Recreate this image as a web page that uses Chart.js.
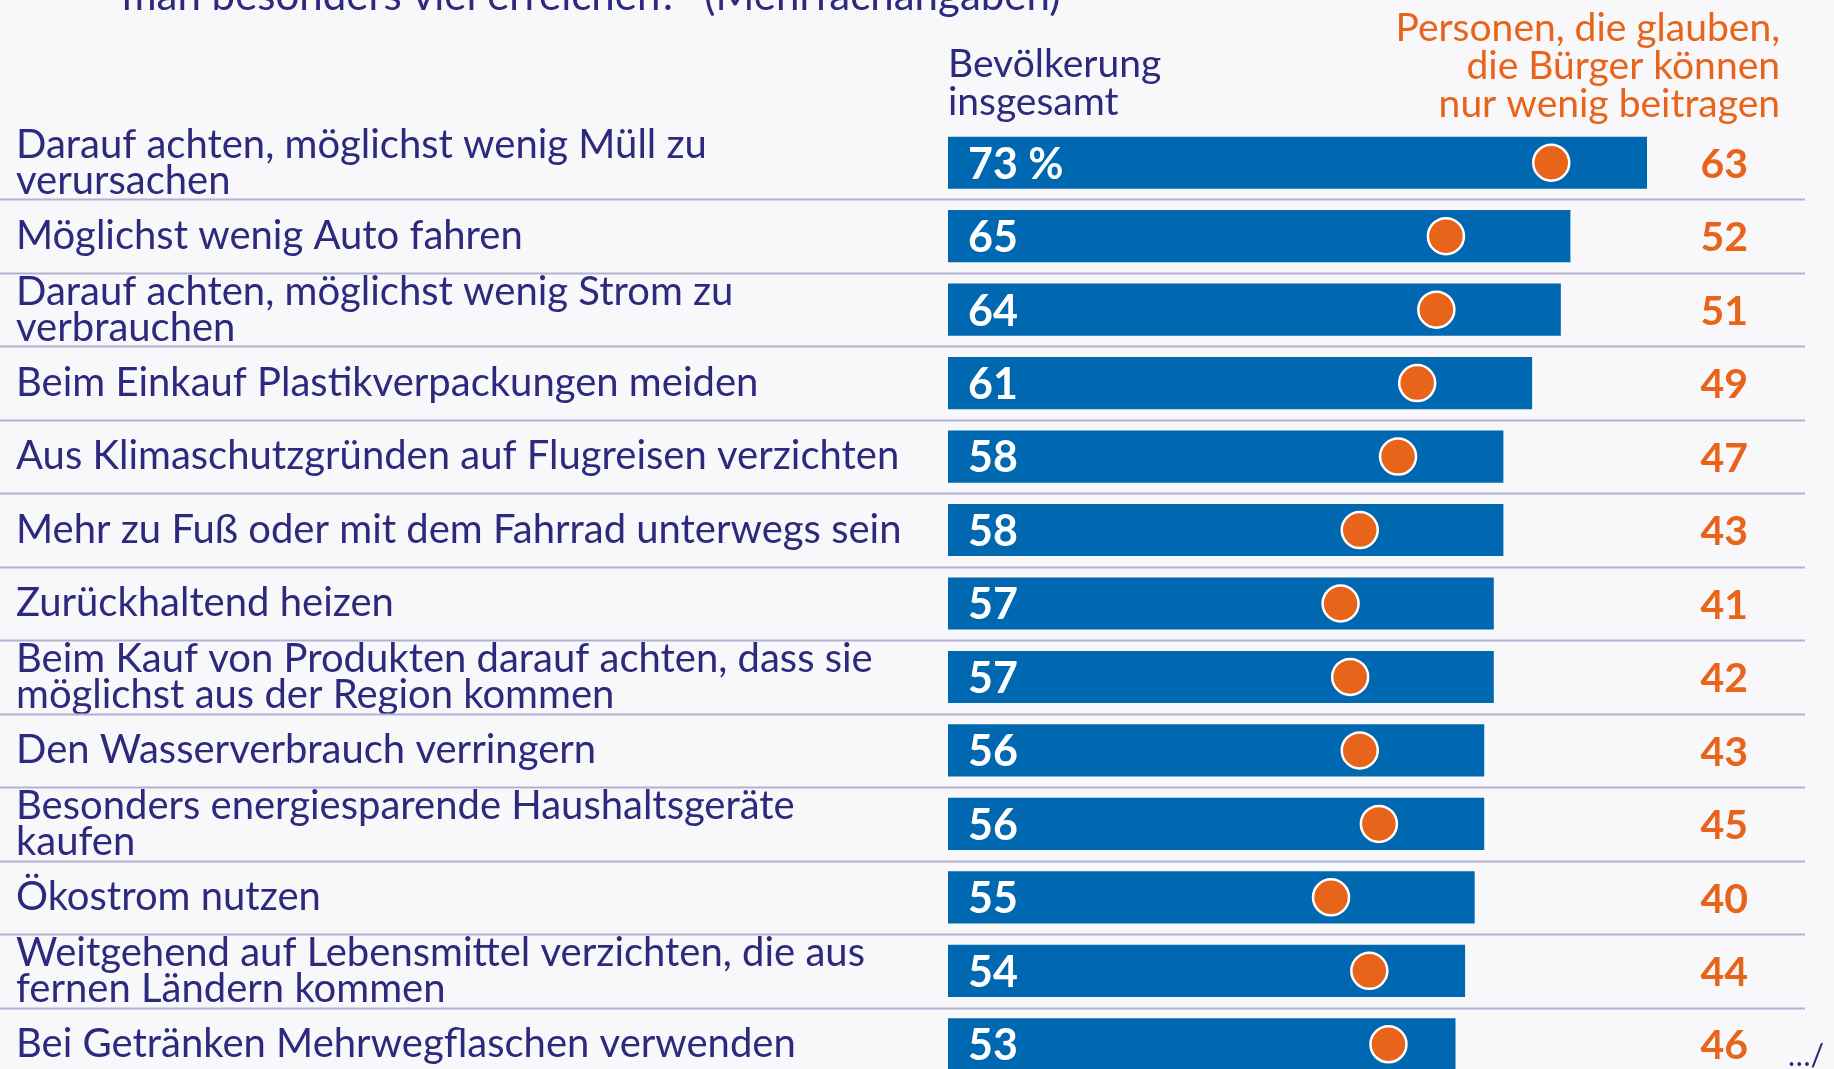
<!DOCTYPE html>
<html>
<head>
<meta charset="utf-8">
<script src="https://cdn.jsdelivr.net/npm/chart.js@4.4.1/dist/chart.umd.min.js"></script>
<style>
  html, body { margin: 0; padding: 0; background: #f8f8fb; overflow: hidden; }
  #wrap { position: relative; width: 1834px; height: 1117px; }
</style>
</head>
<body>
<div id="wrap"><canvas id="chart" width="1834" height="1117"></canvas></div>
<script>
// Werte
const categories = [
  ["Darauf achten, möglichst wenig Müll zu", "verursachen"],
  "Möglichst wenig Auto fahren",
  ["Darauf achten, möglichst wenig Strom zu", "verbrauchen"],
  "Beim Einkauf Plastikverpackungen meiden",
  "Aus Klimaschutzgründen auf Flugreisen verzichten",
  "Mehr zu Fuß oder mit dem Fahrrad unterwegs sein",
  "Zurückhaltend heizen",
  ["Beim Kauf von Produkten darauf achten, dass sie", "möglichst aus der Region kommen"],
  "Den Wasserverbrauch verringern",
  ["Besonders energiesparende Haushaltsgeräte", "kaufen"],
  "Ökostrom nutzen",
  ["Weitgehend auf Lebensmittel verzichten, die aus", "fernen Ländern kommen"],
  "Bei Getränken Mehrwegflaschen verwenden"
];
const bevoelkerung = [73, 65, 64, 61, 58, 58, 57, 57, 56, 56, 55, 54, 53];
const wenigBeitragen = [63, 52, 51, 49, 47, 43, 41, 42, 43, 45, 40, 44, 46];

const titleTail = "man besonders viel erreichen?\u201c (Mehrfachangaben)";
const headerBlue = ["Bevölkerung", "insgesamt"];
const headerOrange = ["Personen, die glauben,", "die Bürger können", "nur wenig beitragen"];

const BLUE = "#0067b1";
const ORANGE = "#e8641b";
const INK = "#2d2a7e";
const RULE = "#b3b0d2";
const FONT = "Lato, 'Open Sans', sans-serif";

const extras = {
  id: "extras",
  beforeDatasetsDraw(chart) {
    const { ctx, chartArea, scales: { y } } = chart;
    ctx.save();
    ctx.strokeStyle = RULE;
    ctx.lineWidth = 2;
    // Trennlinien zwischen den Zeilen
    for (let i = 0; i < categories.length - 1; i++) {
      const yy = Math.round((y.getPixelForValue(i) + y.getPixelForValue(i + 1)) / 2) + 0.5;
      ctx.beginPath();
      ctx.moveTo(0, yy);
      ctx.lineTo(chartArea.right, yy);
      ctx.stroke();
    }
    ctx.restore();
  },
  afterDatasetsDraw(chart) {
    const { ctx, chartArea, scales: { y } } = chart;
    const bars = chart.getDatasetMeta(0).data;
    ctx.save();
    // Werte in den Balken
    ctx.fillStyle = "#ffffff";
    ctx.font = "bold 43px " + FONT;
    ctx.textAlign = "left";
    ctx.textBaseline = "middle";
    bars.forEach((bar, i) => {
      const txt = i === 0 ? bevoelkerung[i] + " %" : String(bevoelkerung[i]);
      ctx.fillText(txt, bar.base + 20, bar.y + 2);
    });
    // Werte rechts
    ctx.fillStyle = ORANGE;
    ctx.font = "bold 41px " + FONT;
    ctx.textAlign = "right";
    wenigBeitragen.forEach((v, i) => {
      ctx.fillText(String(v), chartArea.right - 57, y.getPixelForValue(i) + 2);
    });
    // Kopfzeilen
    ctx.font = "39px " + FONT;
    ctx.fillStyle = INK;
    ctx.textAlign = "left";
    headerBlue.forEach((t, i) => ctx.fillText(t, chartArea.left, 64 + i * 38));
    ctx.fillStyle = ORANGE;
    ctx.textAlign = "right";
    headerOrange.forEach((t, i) => ctx.fillText(t, 1780, 28 + i * 38));
    // abgeschnittene Frage oben
    ctx.fillStyle = INK;
    ctx.textAlign = "left";
    ctx.textBaseline = "alphabetic";
    ctx.font = "42px " + FONT;
    ctx.fillText(titleTail, 122, 10);
    // Fortsetzungszeichen
    ctx.font = "30px " + FONT;
    ctx.fillText("\u2026/", 1788, 1066);
    ctx.restore();
  }
};

new Chart(document.getElementById("chart"), {
  type: "bar",
  data: {
    labels: categories,
    datasets: [
      {
        label: "Bevölkerung insgesamt",
        data: bevoelkerung,
        backgroundColor: BLUE,
        categoryPercentage: 1,
        barPercentage: 0.71,
        order: 2
      },
      {
        type: "line",
        label: "Personen, die glauben, die Bürger können nur wenig beitragen",
        data: wenigBeitragen,
        indexAxis: "y",
        showLine: false,
        pointRadius: 18,
        pointHoverRadius: 18,
        pointBackgroundColor: ORANGE,
        pointBorderColor: "#ffffff",
        pointBorderWidth: 2.5,
        order: 1
      }
    ]
  },
  options: {
    indexAxis: "y",
    responsive: false,
    animation: false,
    layout: { padding: { left: 16, right: 29, top: 126, bottom: 9 } },
    plugins: { legend: { display: false }, tooltip: { enabled: false } },
    scales: {
      x: { min: 0, max: 89.5, display: false },
      y: {
        offset: true,
        grid: { display: false },
        border: { display: false },
        ticks: {
          autoSkip: false,
          crossAlign: "far",
          color: INK,
          padding: 0,
          font: { family: FONT, size: 40, lineHeight: 0.9 }
        },
        afterFit(scale) { scale.width = 932; }
      }
    }
  },
  plugins: [extras]
});
</script>
</body>
</html>
